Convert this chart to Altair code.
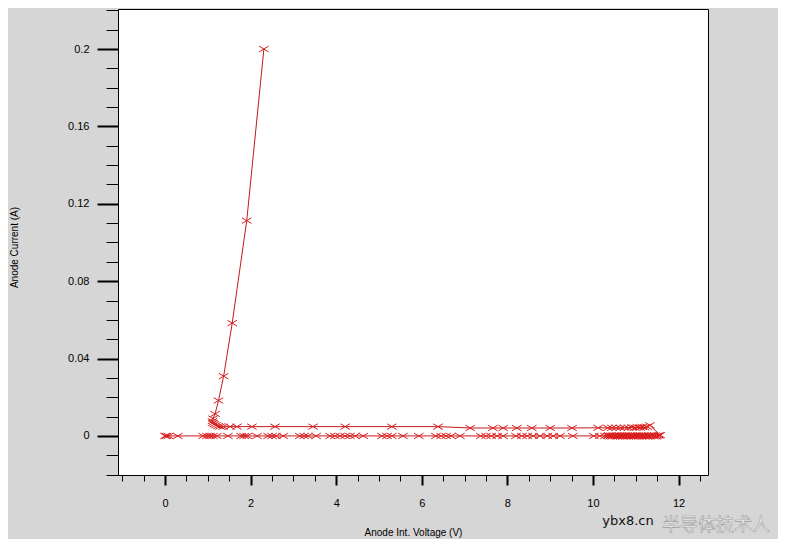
import altair as alt
import pandas as pd

# Lower branch (I ~ 0), voltage sweeping up
lower_v = [0.0, 0.03, 0.08, 0.30, 0.89, 0.98, 1.05, 1.12, 1.21, 1.47, 1.78, 1.85, 1.92,
           2.15, 2.41, 2.50, 2.59, 2.76, 3.15, 3.25, 3.34, 3.53, 3.86, 3.97, 4.09, 4.21,
           4.32, 4.44, 4.63, 5.07, 5.19, 5.30, 5.56, 5.93, 6.33, 6.45, 6.57, 6.68, 6.89,
           7.38, 7.50, 7.62, 7.76, 7.90, 8.20, 8.34, 8.46, 8.60, 8.76, 8.93, 9.07, 9.23,
           9.53, 10.02, 10.16, 10.28, 10.35, 10.37, 10.40, 10.42, 10.45, 10.47, 10.50,
           10.52, 10.55, 10.57, 10.60, 10.62, 10.65, 10.67, 10.70, 10.72, 10.75, 10.77,
           10.80, 10.82, 10.85, 10.87, 10.90, 10.92, 10.95, 10.97, 11.00, 11.02, 11.05,
           11.07, 11.10, 11.12, 11.15, 11.17, 11.20, 11.22, 11.25, 11.27, 11.30, 11.33,
           11.36, 11.39, 11.42, 11.45, 11.48, 11.51, 11.54, 11.57]
lower_i = [0.0, 0.0, 0.0, 0.0, 0.0, 0.0, 0.0, 0.0, 0.0, 0.0, 0.0, 0.0, 0.0,
           0.0, 0.0, 0.0, 0.0, 0.0, 0.0, 0.0, 0.0, 0.0, 0.0, 0.0, 0.0, 0.0,
           0.0, 0.0, 0.0, 0.0, 0.0, 0.0, 0.0, 0.0, 0.0, 0.0, 0.0, 0.0, 0.0,
           0.0, 0.0, 0.0, 0.0, 0.0, 0.0, 0.0, 0.0, 0.0, 0.0, 0.0, 0.0, 0.0,
           0.0, 0.0, 0.0, 0.0, 0.0, 0.0003, -0.0002, 0.0002, -0.0003, 0.0001, 0.0003,
           -0.0002, 0.0002, -0.0003, 0.0001, 0.0003, -0.0002, 0.0002, -0.0003, 0.0001,
           0.0003, -0.0002, 0.0002, -0.0003, 0.0001, 0.0003, -0.0002, 0.0002, -0.0003,
           0.0001, 0.0003, -0.0002, 0.0002, -0.0003, 0.0001, 0.0003, -0.0002, 0.0002,
           -0.0003, 0.0001, 0.0003, -0.0002, 0.0002, -0.0003, 0.0001, 0.0003, -0.0002,
           0.0002, -0.0003, 0.0001, 0.0003, 0.0004]

# Upper branch (I ~ 4-5 mA), voltage snapping back
upper_v = [11.33, 11.27, 11.21, 11.15, 11.10, 11.04, 10.98, 10.91, 10.83, 10.74, 10.64,
           10.54, 10.44, 10.35, 10.12, 9.51, 9.00, 8.57, 8.22, 7.90, 7.66, 7.13, 6.38,
           5.30, 4.21, 3.46, 2.57, 2.03, 1.68, 1.52, 1.36, 1.29]
upper_i = [0.0055, 0.0047, 0.0044, 0.0046, 0.0043, 0.0045, 0.0042, 0.0044, 0.0042, 0.0043, 0.0042,
           0.0042, 0.0042, 0.0042, 0.0042, 0.0041, 0.0041, 0.0041, 0.0041, 0.0041, 0.0041, 0.0041, 0.0048,
           0.0048, 0.0048, 0.0048, 0.0048, 0.0048, 0.0048, 0.0048, 0.0048, 0.0049]

# Snapback corner and high-current rise
rise_v = [1.24, 1.19, 1.15, 1.12, 1.11, 1.12, 1.17, 1.25, 1.37, 1.57, 1.91, 2.31]
rise_i = [0.0051, 0.0055, 0.0060, 0.0067, 0.0076, 0.0090, 0.0114, 0.0183, 0.0309, 0.0583,
          0.1113, 0.2000]

x_ticks = [-1, -0.5, 0, 0.5, 1, 1.5, 2, 2.5, 3, 3.5, 4, 4.5, 5, 5.5, 6, 6.5, 7, 7.5, 8,
           8.5, 9, 9.5, 10, 10.5, 11, 11.5, 12, 12.5]
y_ticks = [-0.02, -0.01, 0, 0.01, 0.02, 0.03, 0.04, 0.05, 0.06, 0.07, 0.08, 0.09, 0.1,
           0.11, 0.12, 0.13, 0.14, 0.15, 0.16, 0.17, 0.18, 0.19, 0.2, 0.21, 0.22]

volt = lower_v + upper_v + rise_v
curr = lower_i + upper_i + rise_i
df = pd.DataFrame({"step": list(range(len(volt))), "V": volt, "I": curr})

x_major = "abs(round(datum.value*2)) % 4 == 0"
y_major = "abs(round(datum.value*100)) % 4 == 0"
FONT = "Liberation Sans"

x_axis = alt.Axis(
    values=x_ticks, format="~g",
    labelExpr=f"({x_major}) ? datum.label : ''",
    tickSize={"condition": {"test": x_major, "value": 10}, "value": 6},
    tickWidth={"condition": {"test": x_major, "value": 2}, "value": 1},
    tickColor="black", domain=False, grid=False,
    labelFont=FONT, labelFontSize=11, labelColor="black", labelPadding=12,
    title="Anode Int. Voltage (V)", titleFont=FONT, titleFontSize=10,
    titleFontWeight="normal", titleColor="black", titleY=57, titleBaseline="middle",
)
y_axis = alt.Axis(
    values=y_ticks, format="~g",
    labelExpr=f"({y_major}) ? datum.label : ''",
    tickSize={"condition": {"test": y_major, "value": 21}, "value": 12},
    tickWidth={"condition": {"test": y_major, "value": 2}, "value": 1},
    tickColor="black", domain=False, grid=False,
    labelFont=FONT, labelFontSize=11, labelColor="black", labelPadding=8,
    title="Anode Current (A)", titleFont=FONT, titleFontSize=10,
    titleFontWeight="normal", titleColor="black", titleX=-104, titleY=238,
    titleBaseline="middle",
)

x_scale = alt.Scale(domain=[-1.098, 12.687], nice=False, zero=False)
y_scale = alt.Scale(domain=[-0.0202, 0.2207], nice=False, zero=False)

base = alt.Chart(df).encode(
    x=alt.X("V:Q", scale=x_scale, axis=x_axis),
    y=alt.Y("I:Q", scale=y_scale, axis=y_axis),
    order="step:Q",
)
line = base.mark_line(color="#c41a1a", strokeWidth=1)
pts = base.mark_point(
    shape="M-1,-0.6L1,0.6M-1,0.6L1,-0.6", size=90, filled=False,
    color="#d91c1c", strokeWidth=1, opacity=1,
)

wm1 = alt.Chart(pd.DataFrame({"t": ["半导体技术人"]})).mark_text(
    font="Noto Sans CJK SC", fontSize=18, color="#f4f4f4", stroke="#9c9c9c",
    strokeWidth=0.6, align="center", baseline="middle",
).encode(text="t:N", x=alt.value(598), y=alt.value(517))
wm2 = alt.Chart(pd.DataFrame({"t": ["ybx8.cn"]})).mark_text(
    font="DejaVu Sans", fontSize=13, color="#111111", align="center", baseline="middle",
).encode(text="t:N", x=alt.value(510), y=alt.value(512))

chart = alt.layer(line, pts, wm1, wm2).properties(
    width=590, height=466,
    autosize=alt.AutoSizeParams(type="none"),
    padding={"left": 110, "top": 1, "right": 70, "bottom": 64},
    background="#d6d6d6",
).configure_view(
    stroke="black", strokeWidth=1, fill="white"
)

chart.save("out.html", embed_options={"renderer": "svg", "actions": False})
